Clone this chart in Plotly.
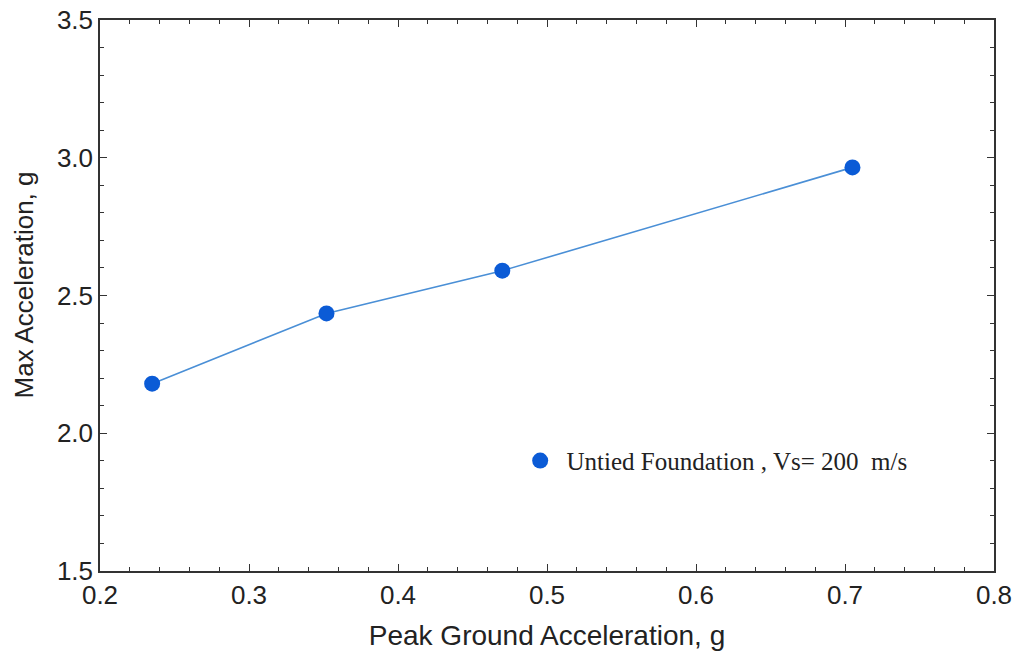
import plotly.graph_objects as go

# Peak ground acceleration vs. maximum structural acceleration
pga = [0.235, 0.352, 0.47, 0.705]
max_acc = [2.18, 2.435, 2.59, 2.965]
series_name = " Untied Foundation , Vs= 200  m/s"

x_ticks = [0.2, 0.3, 0.4, 0.5, 0.6, 0.7, 0.8]
y_ticks = [1.5, 2.0, 2.5, 3.0, 3.5]

fig = go.Figure()
fig.add_trace(go.Scatter(
    x=pga, y=max_acc, mode="lines",
    line=dict(color="#4a8fd6", width=1.6),
    showlegend=False, hoverinfo="skip",
))
fig.add_trace(go.Scatter(
    x=pga, y=max_acc, mode="markers",
    marker=dict(color="#0b5bd6", size=16, line=dict(width=0)),
    name=series_name,
))

axis_common = dict(
    showline=True, mirror="ticks", linecolor="#333333", linewidth=1.5,
    ticks="inside", ticklen=7, tickwidth=1.2, tickcolor="#333333",
    showgrid=False, zeroline=False, automargin=False,
    tickfont=dict(family="Liberation Sans, Arial", size=26, color="#222222"),
)

fig.update_xaxes(
    range=[0.2, 0.8], tickvals=x_ticks, ticktext=[f"{v:.1f}" for v in x_ticks],
    title=dict(text="Peak Ground Acceleration, g",
               font=dict(family="Liberation Sans, Arial", size=28, color="#222222"),
               standoff=16),
    minor=dict(dtick=0.02, ticks="inside", ticklen=4, tickcolor="#333333", tickwidth=1),
    **axis_common,
)
fig.update_yaxes(
    range=[1.5, 3.5], tickvals=y_ticks, ticktext=[f"{v:.1f}" for v in y_ticks],
    minor=dict(dtick=0.1, ticks="inside", ticklen=4, tickcolor="#333333", tickwidth=1),
    **axis_common,
)

# Y-axis title placed as a rotated annotation left of the tick labels
fig.add_annotation(
    text="Max Acceleration, g", textangle=-90,
    xref="paper", yref="paper", x=-0.084, y=0.52,
    xanchor="center", yanchor="middle", showarrow=False,
    font=dict(family="Liberation Sans, Arial", size=26, color="#222222"),
)

fig.update_layout(
    width=1016, height=659,
    margin=dict(l=100, r=22, t=20, b=88),
    plot_bgcolor="white", paper_bgcolor="white",
    legend=dict(
        x=0.47, y=0.2, xanchor="left", yanchor="middle",
        bgcolor="rgba(0,0,0,0)",
        font=dict(family="Liberation Serif, Times New Roman", size=25, color="#222222"),
        itemsizing="trace",
    ),
)

fig.write_html("out.html")
